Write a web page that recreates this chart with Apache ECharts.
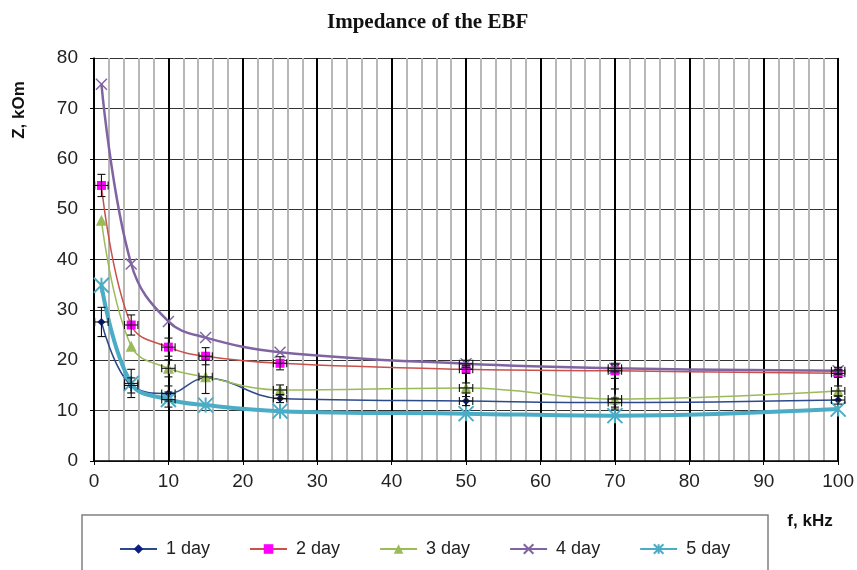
<!DOCTYPE html>
<html>
<head>
<meta charset="utf-8">
<script src="https://cdn.jsdelivr.net/npm/echarts@6/dist/echarts.min.js"></script>
<style>
  html, body { margin: 0; padding: 0; background: #fff; }
  #chart { width: 857px; height: 570px; }
</style>
</head>
<body>
<div id="chart"></div>
<script>
// Frequencies, kHz
const freq = [1, 5, 10, 15, 25, 50, 70, 100];

// Impedance Z, kOm, per day of measurement
const day1 = [27.6, 15.0, 13.4, 16.5, 12.4, 11.9, 11.6, 12.1];
const day2 = [54.7, 27.0, 22.6, 20.8, 19.4, 18.2, 17.9, 17.4];
const day3 = [47.8, 22.8, 18.4, 16.7, 14.1, 14.5, 12.3, 13.9];
const day4 = [74.8, 39.1, 27.7, 24.5, 21.6, 19.3, 18.4, 17.9];
const day5 = [34.9, 15.4, 12.2, 11.1, 9.9, 9.4, 9.0, 10.3];

// Vertical error (±, kOm) per point; 0 means no bar
const err1 = [2.9, 1.5, 1.5, 0, 0.8, 0.9, 0.9, 0.8];
const err2 = [2.2, 2.0, 1.8, 1.7, 1.3, 0.8, 1.5, 0.8];
const err3 = [0, 0, 1.7, 3.3, 1.0, 1.0, 2.0, 1.0];
const err4 = [0, 0, 0, 0, 0, 0.7, 0.7, 0.7];
const err5 = [0, 2.8, 1.5, 0, 0, 0, 0, 0];
// Horizontal error (±, kHz)
const errF = [0.9, 0.9, 0.9, 0.9, 0.9, 0.9, 0.9, 0.9];

const seriesNames = ['1 day', '2 day', '3 day', '4 day', '5 day'];
const xTicks = [0, 10, 20, 30, 40, 50, 60, 70, 80, 90, 100];
const yTicks = [0, 10, 20, 30, 40, 50, 60, 70, 80];

const FONT = '"Liberation Sans", Arial, sans-serif';

const CROSS = 'path://M0,0 L10,10 M10,0 L0,10';
const STAR = 'path://M0,0 L10,10 M10,0 L0,10 M5,0 L5,10';

function pairs(ys) { return freq.map((f, i) => [f, ys[i]]); }
function errData(ys, es) { return freq.map((f, i) => [f, ys[i], es[i], errF[i]]); }

const styles = [
  { line: '#2B4A8C', mark: '#0A1F80', width: 1.5, symbol: 'diamond', size: 8, stroke: 0 },
  { line: '#C9504B', mark: '#FF00FF', width: 1.5, symbol: 'rect', size: 9, stroke: 0 },
  { line: '#9BBB59', mark: '#9BBB59', width: 1.5, symbol: 'triangle', size: 11, stroke: 0 },
  { line: '#8064A2', mark: '#8064A2', width: 2.5, symbol: CROSS, size: 11, stroke: 1.5 },
  { line: '#4BACC6', mark: '#4BACC6', width: 4, symbol: STAR, size: 15, stroke: 2 }
];
const values = [day1, day2, day3, day4, day5];
const errs = [err1, err2, err3, err4, err5];

const lineSeries = values.map((ys, k) => {
  const s = styles[k];
  return {
    name: seriesNames[k],
    type: 'line',
    data: pairs(ys),
    smooth: 0.4,
    z: 3 + k,
    symbol: s.symbol,
    symbolSize: s.size,
    showAllSymbol: true,
    lineStyle: { color: s.line, width: s.width },
    itemStyle: s.stroke
      ? { color: s.mark, borderColor: s.mark, borderWidth: s.stroke }
      : { color: s.mark, borderWidth: 0 },
    emphasis: { disabled: true }
  };
});

// Black error bars with caps, both directions
const errorSeries = values.map((ys, k) => ({
  type: 'custom',
  name: seriesNames[k] + ' err',
  data: errData(ys, errs[k]),
  z: 10,
  silent: true,
  renderItem: function (params, api) {
    const x = api.value(0), y = api.value(1), e = api.value(2), ef = api.value(3);
    if (!e) return { type: 'group', children: [] };
    const top = api.coord([x, y + e]);
    const bot = api.coord([x, y - e]);
    const left = api.coord([x - ef, y]);
    const right = api.coord([x + ef, y]);
    const c = 4;
    const st = { stroke: '#111', lineWidth: 1.1 };
    const seg = (x1, y1, x2, y2) => ({ type: 'line', shape: { x1, y1, x2, y2 }, style: st });
    return {
      type: 'group',
      children: [
        seg(top[0], top[1], bot[0], bot[1]),
        seg(top[0] - c, top[1], top[0] + c, top[1]),
        seg(bot[0] - c, bot[1], bot[0] + c, bot[1]),
        seg(left[0], left[1], right[0], right[1]),
        seg(left[0], left[1] - c, left[0], left[1] + c),
        seg(right[0], right[1] - c, right[0], right[1] + c)
      ]
    };
  }
}));

const chart = echarts.init(document.getElementById('chart'), null, { renderer: 'canvas' });

chart.setOption({
  animation: false,
  backgroundColor: '#ffffff',
  title: {
    text: 'Impedance of the EBF',
    left: 322,
    top: 7,
    textStyle: { fontFamily: '"Liberation Serif", "Times New Roman", serif', fontSize: 21, fontWeight: 'bold', color: '#111' }
  },
  grid: { left: 94, right: 18, top: 58, bottom: 109, containLabel: false },
  xAxis: {
    type: 'value',
    min: xTicks[0],
    max: xTicks[xTicks.length - 1],
    interval: 10,
    axisLine: { show: true, onZero: false, lineStyle: { color: '#000', width: 1.5 } },
    axisTick: { show: true, length: 4, lineStyle: { color: '#000' } },
    axisLabel: { fontFamily: FONT, fontSize: 19, color: '#222', margin: 11 },
    splitLine: { show: true, lineStyle: { color: '#000', width: 2 } },
    minorTick: { show: false, splitNumber: 5 },
    minorSplitLine: { show: true, lineStyle: { color: '#b8b8b8', width: 2 } }
  },
  yAxis: {
    type: 'value',
    min: yTicks[0],
    max: yTicks[yTicks.length - 1],
    interval: 10,
    axisLine: { show: true, lineStyle: { color: '#000', width: 1.5 } },
    axisTick: { show: true, length: 4, lineStyle: { color: '#000' } },
    axisLabel: { fontFamily: FONT, fontSize: 19, color: '#222', margin: 16 },
    splitLine: { show: true, lineStyle: { color: '#333', width: 1 } }
  },
  legend: {
    data: seriesNames,
    left: 114,
    top: 535,
    itemWidth: 37,
    itemHeight: 12,
    itemGap: 39,
    textStyle: { fontFamily: FONT, fontSize: 18, color: '#222', padding: [0, 0, 0, 4] },
    selectedMode: false
  },
  graphic: [
    {
      type: 'rect',
      shape: { x: 82, y: 515, width: 686, height: 70 },
      style: { fill: 'none', stroke: '#808080', lineWidth: 1.5 },
      z: -1
    },
    {
      type: 'text',
      x: 19, y: 110,
      rotation: Math.PI / 2,
      style: {
        text: 'Z, kOm',
        font: 'bold 17px "Liberation Sans", Arial, sans-serif',
        fill: '#111',
        textAlign: 'center',
        textVerticalAlign: 'middle'
      }
    },
    {
      type: 'text',
      x: 810, y: 521,
      style: {
        text: 'f, kHz',
        font: 'bold 17px "Liberation Sans", Arial, sans-serif',
        fill: '#111',
        textAlign: 'center',
        textVerticalAlign: 'middle'
      }
    }
  ],
  series: lineSeries.concat(errorSeries)
});
</script>
</body>
</html>
